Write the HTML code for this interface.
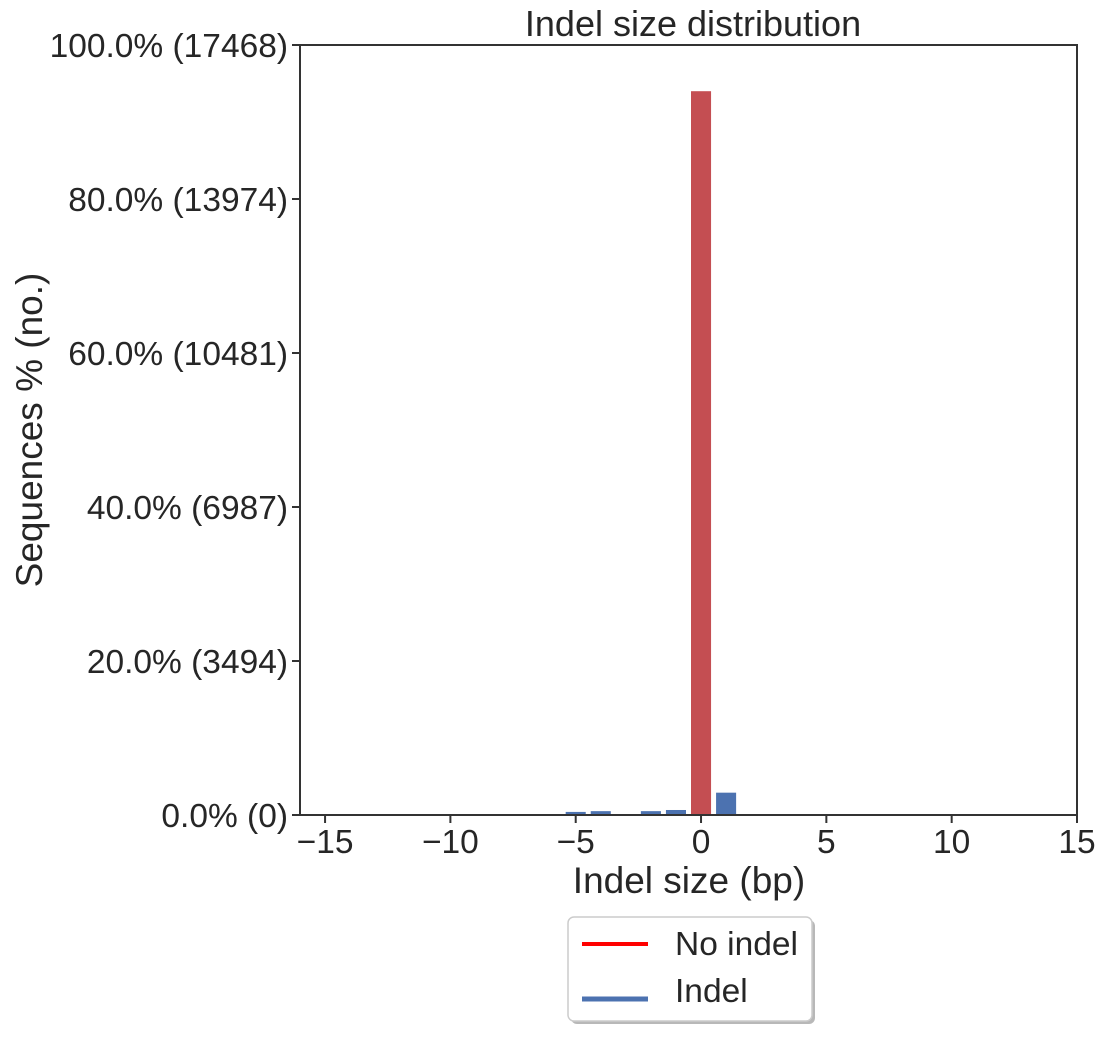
<!DOCTYPE html>
<html><head><meta charset="utf-8"><style>
body{margin:0;background:#fff;}
svg{font-family:"Liberation Sans",sans-serif;}
</style></head><body>
<svg id="c" width="1105" height="1032">
<text x="693" y="36" font-size="36" fill="#262626" text-anchor="middle">Indel size distribution</text>
<g id="bars"></g>
<rect x="300" y="45" width="777" height="770" fill="none" stroke="#333" stroke-width="2"/>
<g id="axes"></g>
<text x="689" y="893" font-size="37" fill="#262626" text-anchor="middle">Indel size (bp)</text>
<text transform="translate(42,430) rotate(-90)" font-size="37" fill="#262626" text-anchor="middle">Sequences % (no.)</text>
<g>
<rect x="571" y="920" width="244" height="104" rx="6" fill="#888" opacity="0.6"/>
<rect x="568" y="917" width="244" height="104" rx="6" fill="#fff" stroke="#ccc" stroke-width="1.5"/>
<line x1="582" y1="944" x2="648" y2="944" stroke="#ff0000" stroke-width="4"/>
<text x="675" y="955" font-size="33.5" fill="#262626">No indel</text>
<line x1="582" y1="999" x2="648" y2="999" stroke="#4c72b0" stroke-width="5"/>
<text x="675" y="1002" font-size="33.5" fill="#262626">Indel</text>
</g>
</svg>
<script>
const sizes=[-5,-4,-3,-2,-1,0,1];
const percents=[0.4,0.5,0.05,0.5,0.65,94.0,2.9];
const xTicks=[-15,-10,-5,0,5,10,15];
const yTicks=[0,20,40,60,80,100];
const yCounts=["0","3494","6987","10481","13974","17468"];
const NS="http://www.w3.org/2000/svg";
const X=v=>300+(v+16)/31*777;
const Y=p=>815-p/100*770;
const bars=document.getElementById('bars'),axes=document.getElementById('axes');
function mk(t,a,p){const e=document.createElementNS(NS,t);for(const k in a)e.setAttribute(k,a[k]);p.appendChild(e);return e;}
sizes.forEach((s,i)=>{
 const r=mk('rect',{x:X(s-0.4),y:Y(percents[i]),width:X(0.4)-X(-0.4),height:815-Y(percents[i]),fill:s===0?'#c44e52':'#4c72b0'},bars);
 
 
});
xTicks.forEach(t=>{
 mk('line',{x1:X(t),x2:X(t),y1:815,y2:823,stroke:'#333','stroke-width':2},axes);
 const tx=mk('text',{x:X(t),y:853,'font-size':33.5,fill:'#262626','text-anchor':'middle'},axes);
 tx.textContent=(t<0?'\u2212'+(-t):t);
 
 
});
yTicks.forEach((t,i)=>{
 mk('line',{x1:292,x2:300,y1:Y(t),y2:Y(t),stroke:'#333','stroke-width':2},axes);
 const tx=mk('text',{x:288,y:Y(t)+12,'font-size':33.5,fill:'#262626','text-anchor':'end'},axes);
 tx.textContent=t.toFixed(1)+'% ('+yCounts[i]+')';
 
 
});
</script>
</body></html>
